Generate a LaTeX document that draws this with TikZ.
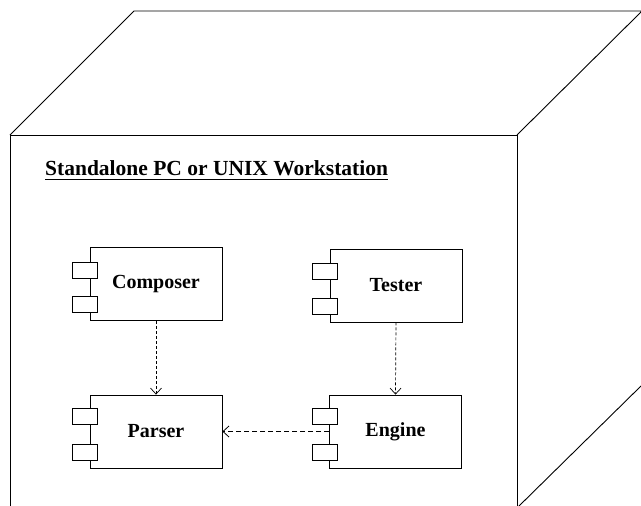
\documentclass[tikz,border=0pt]{standalone}
\usepackage{fontspec}
\setmainfont{Liberation Serif}
\usetikzlibrary{arrows.meta}

\begin{document}
\begin{tikzpicture}[x=1pt,y=1pt,yscale=-1,xscale=1,
    comp/.style={draw,line width=0.8pt,minimum width=132pt,minimum height=73pt,inner sep=0pt,font=\fontsize{20}{23}\selectfont\bfseries},
    tab/.style={draw,fill=white,line width=0.8pt,minimum width=25pt,minimum height=16pt,inner sep=0pt},
    dep/.style={line width=0.7pt,dash pattern={on 3pt off 2pt},-{Straight Barb[length=6pt,width=11pt]}},
    call/.style={line width=1.5pt,dash pattern={on 5pt off 3pt},-{Straight Barb[length=6pt,width=11pt,line width=0.8pt]}}]
				\useasboundingbox (0,0) rectangle (641,506);
				
				%Shape: Cube, front face [id:node-front]
				\draw [line width=0.9pt]  (10,506) -- (10,135) -- (517,135) -- (517,506) ;
				%Shape: Cube, top face [id:node-top]
				\draw [line width=0.9pt]  (10,135) -- (134,11) -- (642,11) -- (517,135) ;
				%Straight Lines [id:node-bottom-edge]
				\draw [line width=0.9pt]  (518,507) -- (641,386) ;
				
				% Text Node
				\node [anchor=base west,inner sep=0pt,font=\fontsize{21.5}{25}\selectfont\bfseries] (title) at (45,175) {Standalone PC or UNIX Workstation};
				\draw [line width=1.3pt]  ([yshift=4.5pt]title.base west) -- ([yshift=4.5pt]title.base east) ;
				
				%Shape: Component [id:composer]
				\node [comp] (composer) at (156,284) {Composer};
				\node [tab] (composer-t1) at ([xshift=-4.5pt,yshift=-14pt]composer.west) {};
				\node [tab] (composer-t2) at ([xshift=-4.5pt,yshift=20.5pt]composer.west) {};
				%Shape: Component [id:tester]
				\node [comp] (tester) at (396,285.5) {Tester};
				\node [tab] (tester-t1) at ([xshift=-4.5pt,yshift=-14.5pt]tester.west) {};
				\node [tab] (tester-t2) at ([xshift=-4.5pt,yshift=21pt]tester.west) {};
				%Shape: Component [id:parser]
				\node [comp] (parser) at (156,431.5) {Parser};
				\node [tab] (parser-t1) at ([xshift=-4.5pt,yshift=-15pt]parser.west) {};
				\node [tab] (parser-t2) at ([xshift=-4.5pt,yshift=20.5pt]parser.west) {};
				%Shape: Component [id:engine]
				\node [comp] (engine) at (395.5,431.5) {Engine};
				\node [tab] (engine-t1) at ([xshift=-4.5pt,yshift=-15pt]engine.west) {};
				\node [tab] (engine-t2) at ([xshift=-4.5pt,yshift=20.5pt]engine.west) {};
				
				%Straight Lines [id:composer-parser]
				\draw [dep]  (composer) -- (parser) ;
				%Straight Lines [id:tester-engine]
				\draw [dep]  (tester.south) -- (engine.north) ;
				%Straight Lines [id:engine-parser]
				\draw [call]  (engine) -- (parser) ;
				
\end{tikzpicture}
\end{document}
